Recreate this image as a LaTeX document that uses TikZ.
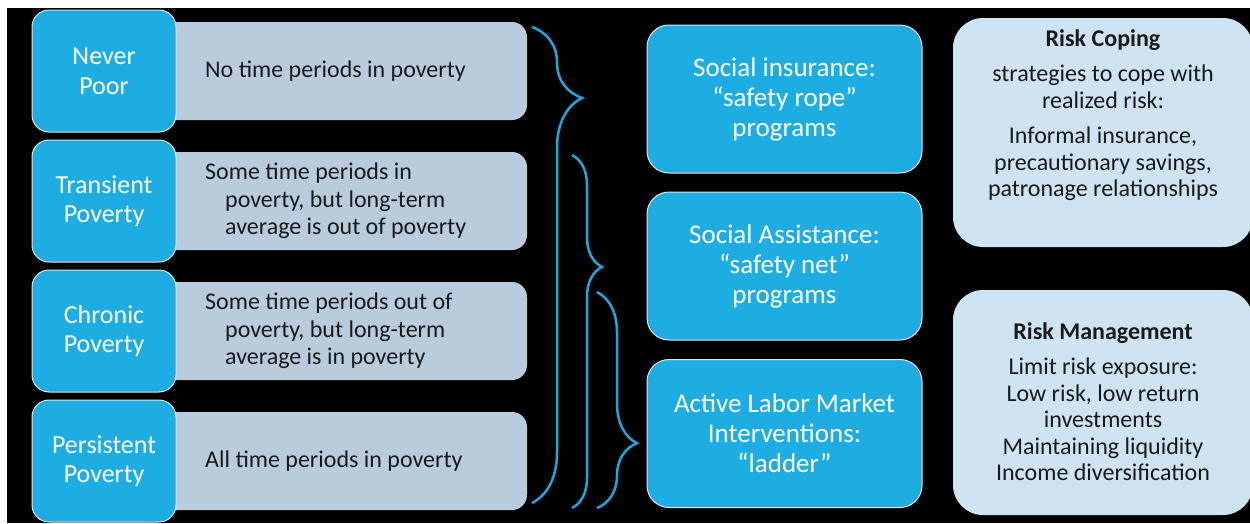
\documentclass[tikz,border=0pt]{standalone}
\usepackage{fontspec}
\setmainfont{Carlito}
\usetikzlibrary{decorations.pathreplacing}
\usepackage{xcolor}

\definecolor{boxblue}{HTML}{1EADE3}
\definecolor{boxgray}{HTML}{B9CCDD}
\definecolor{boxpale}{HTML}{CFE4F3}
\definecolor{bracecol}{HTML}{1FA6DC}

\tikzset{
  kind/.style={draw=white!80!gray, line width=1pt, fill=boxblue, rounded corners=17pt,
    minimum width=144pt, minimum height=122pt, text=white, align=center,
    font=\fontsize{26}{29.5}\selectfont},
  descr/.style={fill=boxgray, rounded corners=15pt, minimum width=377pt, minimum height=98pt},
  descrtext/.style={anchor=west, inner sep=0pt, align=left, text=black!90,
    font=\fontsize{24}{27.5}\selectfont},
  program/.style={draw=white!80!gray, line width=1pt, fill=boxblue, rounded corners=22pt,
    minimum width=275pt, minimum height=148pt, text=white, align=center,
    font=\fontsize{27}{30}\selectfont},
  riskbox/.style={fill=boxpale, rounded corners=30pt, minimum width=300pt},
  risktext/.style={anchor=north, inner sep=0pt, align=center, text=black!90,
    font=\fontsize{24}{26.5}\selectfont},
  bracket/.style={draw=bracecol, line width=2.5pt, decorate},
}

\begin{document}
\begin{tikzpicture}[x=1pt, y=-1pt]
        \clip (0,0) rectangle (1250,523);
        \fill[white] (0,0) rectangle (1250,523);
        \fill[black] (7,8) rectangle (1250,523); % Slide

        % Descriptions
        \node[descr] (never-d) at (338.5,71) {};
        \node[descr] (trans-d) at (338.5,201) {};
        \node[descr] (chron-d) at (338.5,331) {};
        \node[descr] (pers-d) at (338.5,461) {};
        \node[descrtext] (never-t) at (205,71) {No time periods in poverty};
        \node[descrtext] (trans-t) at (205,201) {Some time periods in\\\hspace*{20pt}poverty, but long-term\\\hspace*{20pt}average is out of poverty};
        \node[descrtext] (chron-t) at (205,331) {Some time periods out of\\\hspace*{20pt}poverty, but long-term\\\hspace*{20pt}average is in poverty};
        \node[descrtext] (pers-t) at (205,461) {All time periods in poverty};

        % Kinds of poverty
        \node[kind] (never) at (104,71) {Never\\Poor};
        \node[kind] (trans) at (104,201) {Transient\\Poverty};
        \node[kind] (chron) at (104,331) {Chronic\\Poverty};
        \node[kind] (pers) at (104,461) {Persistent\\Poverty};

        % Braces
        \coordinate (b1top) at (532,27);
        \coordinate (b1bot) at (532,503);
        \coordinate (b2top) at (572,155);
        \coordinate (b2bot) at (572,508);
        \coordinate (b3top) at (597,292);
        \coordinate (b3bot) at (597,508);
        \draw[bracket, decoration={brace, amplitude=50pt, aspect=0.149}] (b1top) -- (b1bot);
        \draw[bracket, decoration={brace, amplitude=30pt, aspect=0.317}] (b2top) -- (b2bot);
        \draw[bracket, decoration={brace, amplitude=40pt, aspect=0.70}] (b3top) -- (b3bot);

        % Programs
        \node[program] (insur) at (784.5,99) {Social insurance:\\“safety rope”\\programs};
        \node[program] (assist) at (784.5,266) {Social Assistance:\\“safety net”\\programs};
        \node[program] (labor) at (784.5,433.5) {Active Labor Market\\Interventions:\\“ladder”};

        % Risk strategies
        \node[riskbox, minimum height=229pt] (coping) at (1103,132.5) {};
        \node[riskbox, minimum height=225pt] (manage) at (1103,402.5) {};
        \node[risktext] (coping-t) at (1103,29) {\textbf{Risk Coping}\\[9pt]strategies to cope with\\realized risk:\\[9pt]Informal insurance,\\precautionary savings,\\patronage relationships};
        \node[risktext] (manage-t) at (1103,322) {\textbf{Risk Management}\\[9pt]Limit risk exposure:\\Low risk, low return\\investments\\Maintaining liquidity\\Income diversification};
    \end{tikzpicture}
\end{document}
